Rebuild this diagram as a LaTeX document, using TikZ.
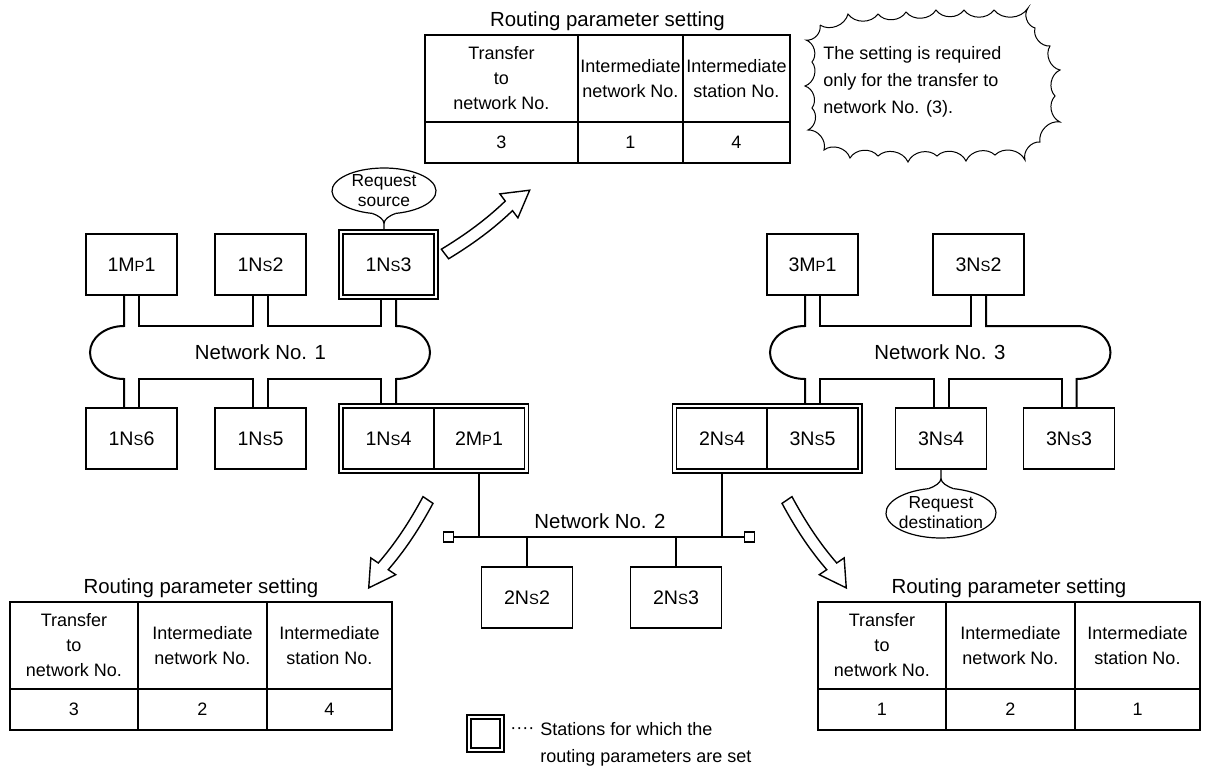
\documentclass[tikz,border=0pt]{standalone}
\usepackage{fontspec}
\setmainfont{Liberation Sans}
\usetikzlibrary{positioning,fit,shapes.geometric}

\newcommand\sm[1]{{\fontsize{7.4}{8}\selectfont #1}}
\newcommand\dropsep{3.75pt}
% routing parameter table: name, x, y, w1, w2, w3, values
\newcommand\routetab[9]{%
  \draw[tabline] (#2,#3) rectangle ({#2+#4+#5+#6},{#3+128});
  \draw[tabline] (#2,{#3+87}) -- ({#2+#4+#5+#6},{#3+87});
  \draw[tabline] ({#2+#4},#3) -- ({#2+#4},{#3+128});
  \draw[tabline] ({#2+#4+#5},#3) -- ({#2+#4+#5},{#3+128});
  \node[tabtitle] (#1-t) at ({#2+(#4+#5+#6)/2},{#3-14}) {Routing parameter setting};
  \node[cell] (#1-h1) at ({#2+#4/2},{#3+43.5}) {Transfer\\to\\network No.};
  \node[cell] (#1-h2) at ({#2+#4+#5/2},{#3+43.5}) {Intermediate\\network No.};
  \node[cell] (#1-h3) at ({#2+#4+#5+#6/2},{#3+43.5}) {Intermediate\\station No.};
  \node[cell] (#1-v1) at ({#2+#4/2},{#3+107.5}) {#7};
  \node[cell] (#1-v2) at ({#2+#4+#5/2},{#3+107.5}) {#8};
  \node[cell] (#1-v3) at ({#2+#4+#5+#6/2},{#3+107.5}) {#9};
}

\tikzset{
  hollowarrow/.pic={
    \draw[arrowline] (0,-6) .. controls (30,-9) and (55,-9) .. (80,-6) -- (80,-15)
      -- (106,0) -- (80,15) -- (80,6) .. controls (55,3) and (30,3) .. (0,6) -- cycle;
  }
}

\begin{document}
\begin{tikzpicture}[x=0.5pt, y=-0.5pt,
  station/.style={draw, line width=0.65pt, minimum width=45.5pt, minimum height=30.5pt,
    inner sep=0pt, font=\fontsize{9.8}{12}\selectfont},
  frame/.style={draw, line width=0.65pt, inner sep=1.7pt},
  bus/.style={line width=1pt},
  net/.style={line width=1pt},
  term/.style={draw, line width=0.65pt, minimum size=5pt, inner sep=0pt, fill=white},
  netlabel/.style={font=\fontsize{10.2}{12}\selectfont},
  bubble/.style={ellipse, align=center, inner sep=0pt, font=\fontsize{8.7}{10}\selectfont},
  bubbleline/.style={line width=0.6pt},
  tabline/.style={line width=0.65pt},
  tabtitle/.style={font=\fontsize{10.2}{12}\selectfont},
  cell/.style={align=center, inner sep=0pt, font=\fontsize{9}{12.5}\selectfont},
  arrowline/.style={line width=0.7pt, fill=white, line join=miter},
  cloudline/.style={line width=0.5pt},
  note/.style={align=left, inner sep=0pt, font=\fontsize{9}{13.5}\selectfont}]
\useasboundingbox (0,0) rectangle (1207,772);

% stations
\node[station] (s1m1) at (131.5,264.5) {1M\sm{P}1};
\node[station] (s1n2) at (260.5,264.5) {1N\sm{S}2};
\node[station] (s1n3) at (388.5,264.5) {1N\sm{S}3};
\node[station] (s1n6) at (131.5,438.5) {1N\sm{S}6};
\node[station] (s1n5) at (260.5,438.5) {1N\sm{S}5};
\node[station] (s1n4) at (388.5,438.5) {1N\sm{S}4};
\node[station] (s2m1) at (479,438.5) {2M\sm{P}1};
\node[station] (s3m1) at (812.5,264.5) {3M\sm{P}1};
\node[station] (s3n2) at (978.5,264.5) {3N\sm{S}2};
\node[station] (s2n4) at (722,438.5) {2N\sm{S}4};
\node[station] (s3n5) at (812.5,438.5) {3N\sm{S}5};
\node[station] (s3n4) at (941,438.5) {3N\sm{S}4};
\node[station] (s3n3) at (1069,438.5) {3N\sm{S}3};
\node[station] (s2n2) at (527,597.5) {2N\sm{S}2};
\node[station] (s2n3) at (676,597.5) {2N\sm{S}3};

% stations with routing parameters
\node[frame, fit=(s1n3)] (f1n3) {};
\node[frame, fit=(s1n4)(s2m1)] (f12) {};
\node[frame, fit=(s2n4)(s3n5)] (f23) {};

% network No. 1
\coordinate (t1) at (0,326);
\coordinate (b1) at (0,379);
\draw[bus] ([xshift=-\dropsep]s1m1.south) -- ([xshift=-\dropsep]s1m1.south |- t1)
  arc[start angle=270, end angle=90, x radius=34, y radius=26.5] -- ([xshift=-\dropsep]s1n6.north);
\draw[bus] ([xshift=\dropsep]s1m1.south) |- ([xshift=-\dropsep]s1n2.south |- t1) -- ([xshift=-\dropsep]s1n2.south);
\draw[bus] ([xshift=\dropsep]s1n2.south) |- ([xshift=-\dropsep]f1n3.south |- t1) -- ([xshift=-\dropsep]f1n3.south);
\draw[bus] ([xshift=\dropsep]f1n3.south) -- ([xshift=\dropsep]f1n3.south |- t1)
  arc[start angle=-90, end angle=90, x radius=34, y radius=26.5] -- ([xshift=\dropsep]s1n4.north |- f12.north);
\draw[bus] ([xshift=\dropsep]s1n6.north) |- ([xshift=-\dropsep]s1n5.north |- b1) -- ([xshift=-\dropsep]s1n5.north);
\draw[bus] ([xshift=\dropsep]s1n5.north) |- ([xshift=-\dropsep]s1n4.north |- b1) -- ([xshift=-\dropsep]s1n4.north |- f12.north);
\node[netlabel] (net1) at (260.5,352.5) {Network No. 1};

% network No. 3
\draw[bus] ([xshift=-\dropsep]s3m1.south) -- ([xshift=-\dropsep]s3m1.south |- t1)
  arc[start angle=270, end angle=90, x radius=35, y radius=26.5] -- ([xshift=-\dropsep]s3n5.north |- f23.north);
\draw[bus] ([xshift=\dropsep]s3m1.south) |- ([xshift=-\dropsep]s3n2.south |- t1) -- ([xshift=-\dropsep]s3n2.south);
\draw[bus] ([xshift=\dropsep]s3n2.south) |- ([xshift=\dropsep]s3n3.north |- t1)
  arc[start angle=-90, end angle=90, x radius=34, y radius=26.5] -- ([xshift=\dropsep]s3n3.north);
\draw[bus] ([xshift=\dropsep]s3n5.north |- f23.north) |- ([xshift=-\dropsep]s3n4.north |- b1) -- ([xshift=-\dropsep]s3n4.north);
\draw[bus] ([xshift=\dropsep]s3n4.north) |- ([xshift=-\dropsep]s3n3.north |- b1) -- ([xshift=-\dropsep]s3n3.north);
\node[netlabel] (net3) at (940,352.5) {Network No. 3};

% network No. 2
\node[term] (tl) at (448.5,537) {};
\node[term] (tr) at (749.5,537) {};
\draw[net] (tl) -- (tr);
\draw[net] (s2m1.south |- f12.south) -- (s2m1.south |- tl);
\draw[net] (s2n4.south |- f23.south) -- (s2n4.south |- tl);
\draw[net] (s2n2.north) -- (s2n2.north |- tl);
\draw[net] (s2n3.north) -- (s2n3.north |- tl);
\node[netlabel] (net2) at (600,521) {Network No. 2};

% request bubbles
\node[bubble, minimum width=52pt, minimum height=23pt] (reqsrc) at (384,191) {Request\\source};
\draw[bubbleline] (reqsrc.center) ++(-77:26pt and 11.5pt)
  arc[start angle=-77, end angle=257, x radius=26pt, y radius=11.5pt];
\coordinate (rsk) at ([yshift=-4.5pt]reqsrc.south);
\draw[bubbleline] (reqsrc.center) ++(257:26pt and 11.5pt) .. controls +(3pt,-1pt) and +(0,2pt) .. (rsk) -- (reqsrc.south |- f1n3.north);
\draw[bubbleline] (reqsrc.center) ++(-77:26pt and 11.5pt) .. controls +(-3pt,-1pt) and +(0,2pt) .. (rsk);

\node[bubble, minimum width=55pt, minimum height=25pt] (reqdst) at (941,513) {Request\\destination};
\draw[bubbleline] (reqdst.center) ++(103:27.5pt and 12.5pt)
  arc[start angle=103, end angle=437, x radius=27.5pt, y radius=12.5pt];
\coordinate (rdk) at ([yshift=4.5pt]reqdst.north);
\draw[bubbleline] (reqdst.center) ++(103:27.5pt and 12.5pt) .. controls +(3pt,1pt) and +(0,-2pt) .. (rdk) -- (s3n4.south);
\draw[bubbleline] (reqdst.center) ++(77:27.5pt and 12.5pt) .. controls +(-3pt,1pt) and +(0,-2pt) .. (rdk);

% hollow arrows
\pic[rotate=37, yscale=-1] (arrtop) at (445,254) {hollowarrow};
\pic[rotate=-124] (arrleft) at (428,500) {hollowarrow};
\pic[rotate=-56, yscale=-1] (arrright) at (787,500) {hollowarrow};

% routing parameter tables
\routetab{tabtop}{425}{35}{153}{105}{107}{3}{1}{4}
\routetab{tableft}{10}{602}{128}{129}{125}{3}{2}{4}
\routetab{tabright}{818}{602}{128}{129}{125}{1}{2}{1}

% note cloud
\draw[cloudline] (820,25) to[bend right=55] (848,14) to[bend right=55] (878,14)
  to[bend right=55] (906,12) to[bend right=55] (936,10) to[bend right=55] (964,10)
  to[bend right=55] (994,10) to[bend right=55] (1028,8) to[bend right=55] (1035,28)
  to[bend right=55] (1050,46) to[bend right=55] (1060,70) to[bend right=55] (1055,96)
  to[bend right=55] (1060,122) to[bend right=55] (1040,142) to[bend right=55] (1025,160)
  to[bend right=55] (995,155) to[bend right=55] (966,161) to[bend right=55] (937,156)
  to[bend right=55] (908,162) to[bend right=55] (878,156) to[bend right=55] (850,158)
  to[bend right=55] (824,150) to[bend right=55] (808,130) to[bend right=55] (812,108)
  to[bend right=55] (805,86) to[bend right=55] (812,62) to[bend right=55] (806,40)
  to[bend right=55] (820,25);
\node[note, anchor=west] (note) at (823,82) {The setting is required\\only for the transfer to\\network No. (3).};

% legend
\node[draw, line width=0.65pt, minimum size=14.5pt, inner sep=0pt] (legbox) at (485.5,733.5) {};
\node[frame, fit=(legbox)] (legframe) {};
\node[note, anchor=west] (legdots) at (510,731) {····};
\node[note, anchor=north west] (legtext) at (540,722) {Stations for which the\\routing parameters are set};
\end{tikzpicture}
\end{document}
